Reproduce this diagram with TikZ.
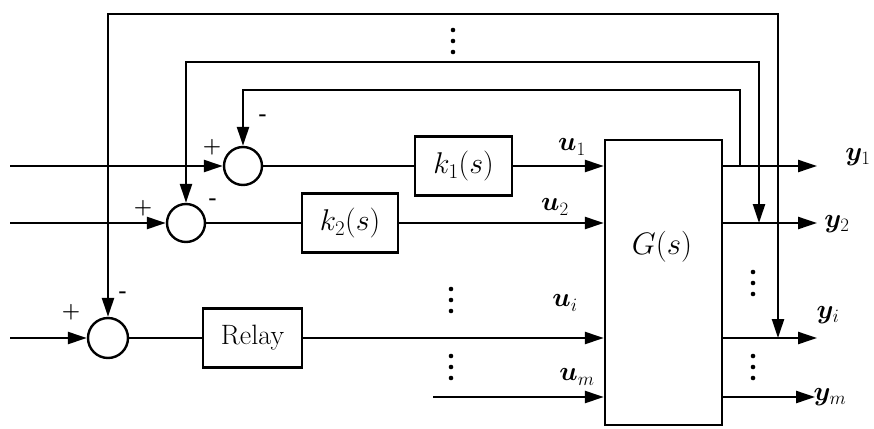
\RequirePackage{fix-cm}
\documentclass[tikz,border=0pt]{standalone}
\usepackage{amsmath}
\usepackage{bm}
\usepackage{tikz}
\usetikzlibrary{arrows.meta}
\tikzset{
  blk/.style={draw,line width=2.4pt,minimum height=59pt,inner sep=0pt,font=\fontsize{30}{34}\selectfont},
  sm/.style={draw,circle,line width=2.4pt,minimum size=38pt,inner sep=0pt},
  ln/.style={line width=2.4pt},
  sig/.style={line width=2.4pt,-{Triangle[length=19pt,width=12pt]}},
  dsig/.style={line width=2.4pt,{Triangle[length=19pt,width=12pt]}-{Triangle[length=19pt,width=12pt]}},
  sgn/.style={font=\fontsize{21}{21}\selectfont\bfseries,inner sep=0pt},
  lbl/.style={font=\fontsize{27}{30}\selectfont,inner sep=0pt}
}
\newcommand{\vdts}[2]{\foreach \k in {-1,0,1} \fill (#1,#2+11*\k) circle (2.3pt);}

\begin{document}
\begin{tikzpicture}[x=1pt,y=-1pt]
\useasboundingbox (0,0) rectangle (874,428);
% sums and blocks
\node[sm] (sA) at (243,166) {};
\node[sm] (sB) at (186,223) {};
\node[sm,minimum size=40pt] (sC) at (108,338) {};
\node[blk,minimum width=97pt] (kA) at (463.5,166) {$k_1(s)$};
\node[blk,minimum width=96pt] (kB) at (350,223) {$k_2(s)$};
\node[blk,minimum width=99pt,font=\fontsize{28}{32}\selectfont] (rl) at (252.5,338) {Relay};
\node[blk,minimum width=117pt,minimum height=285pt] (G) at (663.5,282.5) {};
\node[lbl,font=\fontsize{31}{34}\selectfont] (Gt) at (662,247) {$G(s)$};
% inputs
\coordinate (iA) at (10,166);
\coordinate (iB) at (10,223);
\coordinate (iC) at (10,338);
\coordinate (um) at (433,397);
\draw[sig] (iA) -- (sA);
\draw[sig] (iB) -- (sB);
\draw[sig] (iC) -- (sC);
\draw[ln] (sA) -- (kA);
\draw[ln] (sB) -- (kB);
\draw[ln] (sC) -- (rl);
\draw[sig] (kA) -- (kA -| G.west);
\draw[sig] (kB) -- (kB -| G.west);
\draw[sig] (rl) -- (rl -| G.west);
\draw[sig] (um) -- (um -| G.west);
% outputs
\coordinate (oA) at (817,166);
\coordinate (oB) at (817,223);
\coordinate (oC) at (817,338);
\coordinate (oM) at (815,397);
\draw[sig] (oA -| G.east) -- (oA);
\draw[sig] (oB -| G.east) -- (oB);
\draw[sig] (oC -| G.east) -- (oC);
\draw[sig] (oM -| G.east) -- (oM);
% feedback loops
\coordinate (fA) at (740,166);
\coordinate (tA) at (740,90);
\coordinate (tB) at (759,62);
\coordinate (tC) at (778,14);
\draw[sig,line cap=rect] (fA) -- (tA) -| (sA);
\draw[dsig] (tB |- oB) -- (tB) -| (sB);
\draw[dsig] (tC |- oC) -- (tC) -| (sC);
% signs
\node[sgn] (pA) at (212,147) {+};
\node[sgn] (mA) at (263,118) {-};
\node[sgn] (pB) at (143,208) {+};
\node[sgn] (mB) at (213,202) {-};
\node[sgn] (pC) at (71,312) {+};
\node[sgn] (mC) at (123,295) {-};
% signal labels
\node[lbl] (lu1) at (572,147) {$\bm{u}_1$};
\node[lbl] (lu2) at (555,207) {$\bm{u}_2$};
\node[lbl] (lui) at (565,303) {$\bm{u}_i$};
\node[lbl] (lum) at (577,377) {$\bm{u}_m$};
\node[lbl] (ly1) at (858,157) {$\bm{y}_1$};
\node[lbl] (ly2) at (837,224) {$\bm{y}_2$};
\node[lbl] (lyi) at (828,315) {$\bm{y}_i$};
\node[lbl] (lym) at (830,397) {$\bm{y}_m$};
% dots
\vdts{453}{41}
\vdts{451}{300}
\vdts{451}{367}
\vdts{753}{283}
\vdts{753}{367}
\end{tikzpicture}
\end{document}
